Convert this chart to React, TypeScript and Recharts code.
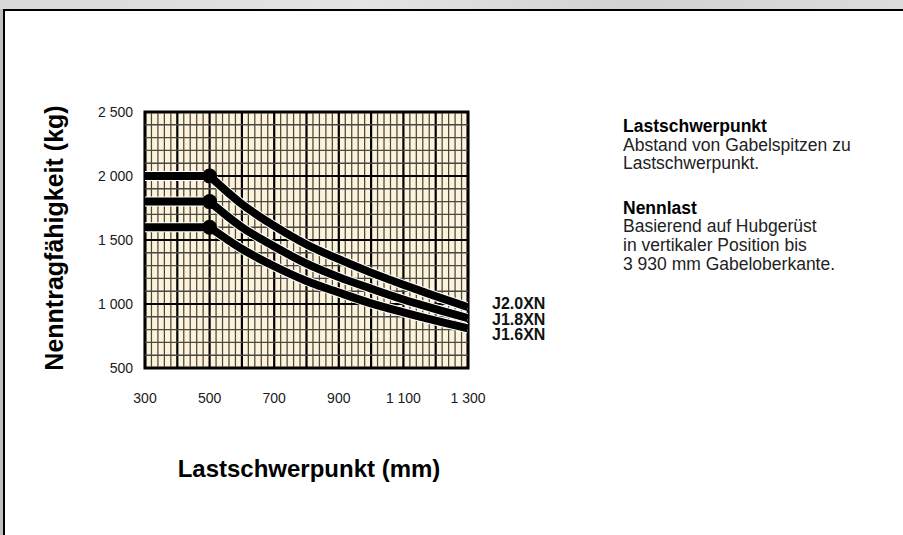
import React from "react";
import {
  LineChart,
  Line,
  XAxis,
  YAxis,
  ReferenceLine,
  ReferenceArea,
} from "recharts";

// load centre (mm) where the rated capacity starts to drop
const flatFrom = 300;
const loadCentres = [500, 600, 700, 800, 900, 1000, 1100, 1200, 1300];

// rated capacity (kg)
const j20 = [2000, 1780, 1610, 1465, 1350, 1245, 1150, 1060, 975];
const j18 = [1800, 1600, 1450, 1315, 1210, 1120, 1035, 960, 890];
const j16 = [1600, 1430, 1295, 1180, 1090, 1005, 935, 870, 810];
const models = ["J2.0XN", "J1.8XN", "J1.6XN"];

const xTicks = [300, 500, 700, 900, 1100, 1300];
const yTicks = [500, 1000, 1500, 2000, 2500];
const xGrid = Array.from({ length: 51 }, (_, i) => 300 + i * 20);
const yGrid = Array.from({ length: 21 }, (_, i) => 500 + i * 100);

const seriesList = [j20, j18, j16];

const fmt = (v: number) =>
  v >= 1000 ? `${Math.floor(v / 1000)} ${String(v % 1000).padStart(3, "0")}` : String(v);

const font = "Arial, 'Liberation Sans', Helvetica, sans-serif";

const renderXTick = (props: any) => (
  <text
    key={`xt${props.payload.value}`}
    x={props.x}
    y={398}
    textAnchor="middle"
    dominantBaseline="central"
    fontFamily="Arial, Liberation Sans, sans-serif"
    fontSize={14}
    fill="#1a1a1a"
  >
    {fmt(props.payload.value)}
  </text>
);

const renderYTick = (props: any) => (
  <text
    key={`yt${props.payload.value}`}
    x={133}
    y={props.y}
    textAnchor="end"
    dominantBaseline="central"
    fontFamily="Arial, Liberation Sans, sans-serif"
    fontSize={14}
    fill="#1a1a1a"
  >
    {fmt(props.payload.value)}
  </text>
);

const KinkDot = (props: any) =>
  props.index === 0 ? (
    <circle key={`d-${props.cx}-${props.cy}`} cx={props.cx} cy={props.cy} r={7.5} fill="#000" />
  ) : (
    <g key={`n-${props.index}`} />
  );

export default function App() {
  return (
    <div style={{ position: "absolute", left: 0, top: 0, width: 903, height: 535, overflow: "hidden", background: "#bfbfbf", fontFamily: font }}>
      <div style={{ position: "absolute", left: 0, top: 0, width: 903, height: 9, background: "linear-gradient(90deg, #d9d9d9, #e4e4e4 40%, #d2d2d2 70%, #dcdcdc)" }} />
      <div style={{ position: "absolute", left: 3, top: 9, width: 900, height: 530, background: "#fff", borderLeft: "2px solid #000", borderTop: "2px solid #000" }} />

      <LineChart
        width={903}
        height={535}
        margin={{ top: 112, right: 435, bottom: 127, left: 0 }}
        style={{ position: "absolute", left: 0, top: 0 }}
      >
        <XAxis
          type="number"
          dataKey="x"
          domain={[300, 1300]}
          ticks={xTicks}
          tick={renderXTick}
          tickLine={false}
          axisLine={false}
          height={40}
          allowDataOverflow
        />
        <YAxis
          type="number"
          dataKey="y"
          domain={[500, 2500]}
          ticks={yTicks}
          tick={renderYTick}
          tickLine={false}
          axisLine={false}
          width={145}
          allowDataOverflow
        />
        <ReferenceArea x1={300} x2={1300} y1={500} y2={2500} fill="#fdf3da" fillOpacity={1} stroke="none" />
        {xGrid.map((v) => (
          <ReferenceLine key={`vx${v}`} x={v} stroke={v % 100 === 0 ? "#000" : "#4a4740"} strokeWidth={v % 100 === 0 ? 2.2 : 1.25} />
        ))}
        {yGrid.map((v) => (
          <ReferenceLine key={`hy${v}`} y={v} stroke={v % 500 === 0 ? "#000" : "#4a4740"} strokeWidth={v % 500 === 0 ? 2.2 : 1.4} />
        ))}
        {seriesList.map((vals, s) => {
          const flat = [
            { x: flatFrom, y: vals[0] },
            { x: loadCentres[0], y: vals[0] },
          ];
          const curve = loadCentres.map((x, i) => ({ x, y: vals[i] }));
          return [
            <Line key={`fw${s}`} data={flat} dataKey="y" type="linear" stroke="#fff" strokeWidth={10} dot={false} isAnimationActive={false} />,
            <Line key={`cw${s}`} data={curve} dataKey="y" type="monotone" stroke="#fff" strokeWidth={10} dot={false} isAnimationActive={false} />,
            <Line key={`f${s}`} data={flat} dataKey="y" type="linear" stroke="#000" strokeWidth={8} dot={false} isAnimationActive={false} />,
            <Line key={`c${s}`} data={curve} dataKey="y" type="monotone" stroke="#000" strokeWidth={8} dot={<KinkDot />} isAnimationActive={false} />,
          ];
        })}
        <ReferenceArea x1={300} x2={1300} y1={500} y2={2500} fill="none" stroke="#000" strokeWidth={3} ifOverflow="visible" />
      </LineChart>

      <div style={{ position: "absolute", left: 54, top: 238, transform: "translate(-50%, -50%) rotate(-90deg)", whiteSpace: "nowrap", fontWeight: 700, fontSize: 25, color: "#000" }}>
        Nenntragfähigkeit (kg)
      </div>
      <div style={{ position: "absolute", left: 309, top: 469, transform: "translate(-50%, -50%)", whiteSpace: "nowrap", fontWeight: 700, fontSize: 24, color: "#000" }}>
        Lastschwerpunkt (mm)
      </div>

      <div style={{ position: "absolute", left: 492, top: 296, fontWeight: 700, fontSize: 16, lineHeight: "15.5px", color: "#111" }}>
        {models.map((m) => (
          <div key={m}>{m}</div>
        ))}
      </div>

      <div style={{ position: "absolute", left: 623, top: 117, fontSize: 17.5, lineHeight: "18.6px", color: "#222" }}>
        <div style={{ fontWeight: 700, color: "#000" }}>Lastschwerpunkt</div>
        <div>Abstand von Gabelspitzen zu</div>
        <div>Lastschwerpunkt.</div>
        <div style={{ height: 26 }} />
        <div style={{ fontWeight: 700, color: "#000" }}>Nennlast</div>
        <div>Basierend auf Hubgerüst</div>
        <div>in vertikaler Position bis</div>
        <div>3 930 mm Gabeloberkante.</div>
      </div>
    </div>
  );
}
